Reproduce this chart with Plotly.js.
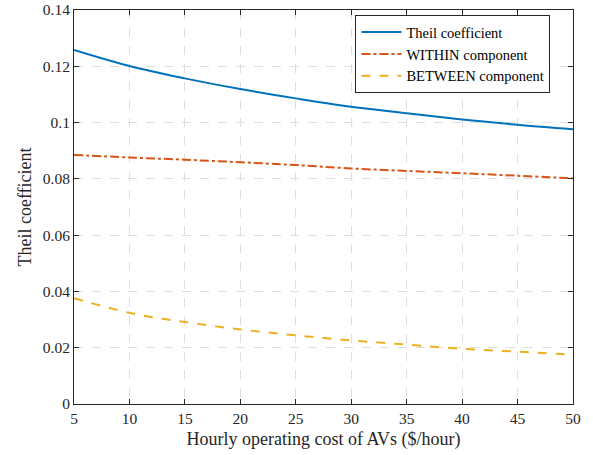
<!DOCTYPE html>
<html><head><meta charset="utf-8">
<script src="https://cdn.plot.ly/plotly-3.0.1.min.js"></script>
<style>body{margin:0;background:#fff}#chart{width:593px;height:455px}</style>
</head><body><div id="chart"></div>
<script>
const cost = [5, 10, 15, 20, 25, 30, 35, 40, 45, 50];
const theil = [0.1258, 0.1201, 0.1157, 0.1119, 0.1086, 0.1056, 0.1033, 0.1011, 0.0992, 0.0976];
const within = [0.0885, 0.0876, 0.0868, 0.0859, 0.0849, 0.0837, 0.0828, 0.0820, 0.0811, 0.0802];
const between = [0.0376, 0.0324, 0.0291, 0.0265, 0.0244, 0.0226, 0.0211, 0.0196, 0.0186, 0.0175];
const xTicks = [5, 10, 15, 20, 25, 30, 35, 40, 45, 50];
const yTicks = [0, 0.02, 0.04, 0.06, 0.08, 0.1, 0.12, 0.14];
const yTickText = ['0', '0.02', '0.04', '0.06', '0.08', '0.1', '0.12', '0.14'];

const font = '"Liberation Serif", serif';
const traces = [
  {x: cost, y: theil, name: 'Theil coefficient', mode: 'lines', line: {color: '#0072BD', width: 2, shape: 'spline'}},
  {x: cost, y: within, name: 'WITHIN component', mode: 'lines', line: {color: '#D95319', width: 2, dash: 'dashdot', shape: 'spline'}},
  {x: cost, y: between, name: 'BETWEEN component', mode: 'lines', line: {color: '#EDB120', width: 2, dash: 'dash', shape: 'spline'}}
];
const axisCommon = {
  showline: true, linecolor: '#262626', linewidth: 1, mirror: 'ticks',
  ticks: 'inside', ticklen: 5, tickcolor: '#262626',
  showgrid: true, gridcolor: '#dedede', griddash: 'dash', gridwidth: 1,
  zeroline: false, tickfont: {family: font, size: 15.5, color: '#262626'}
};
const layout = {
  width: 593, height: 455,
  margin: {l: 74, r: 20, t: 10, b: 51},
  paper_bgcolor: '#fff', plot_bgcolor: '#fff',
  font: {family: font, color: '#262626'},
  showlegend: true,
  legend: {x: 0.564, y: 0.987, xanchor: 'left', yanchor: 'top', bgcolor: '#fff',
    bordercolor: '#262626', borderwidth: 1, font: {family: font, size: 14.5, color: '#000'},
    tracegroupgap: 0, itemwidth: 40},
  xaxis: Object.assign({}, axisCommon, {range: [5, 50], tickvals: xTicks, ticktext: xTicks.map(String),
    title: {text: 'Hourly operating cost of AVs ($/hour)', font: {family: font, size: 18, color: '#262626'}, standoff: 6}}),
  yaxis: Object.assign({}, axisCommon, {range: [0, 0.14], tickvals: yTicks, ticktext: yTickText,
    title: {text: 'Theil coefficient', font: {family: font, size: 18, color: '#262626'}, standoff: 6}})
};
Plotly.newPlot('chart', traces, layout, {displayModeBar: false, staticPlot: true});
</script></body></html>
